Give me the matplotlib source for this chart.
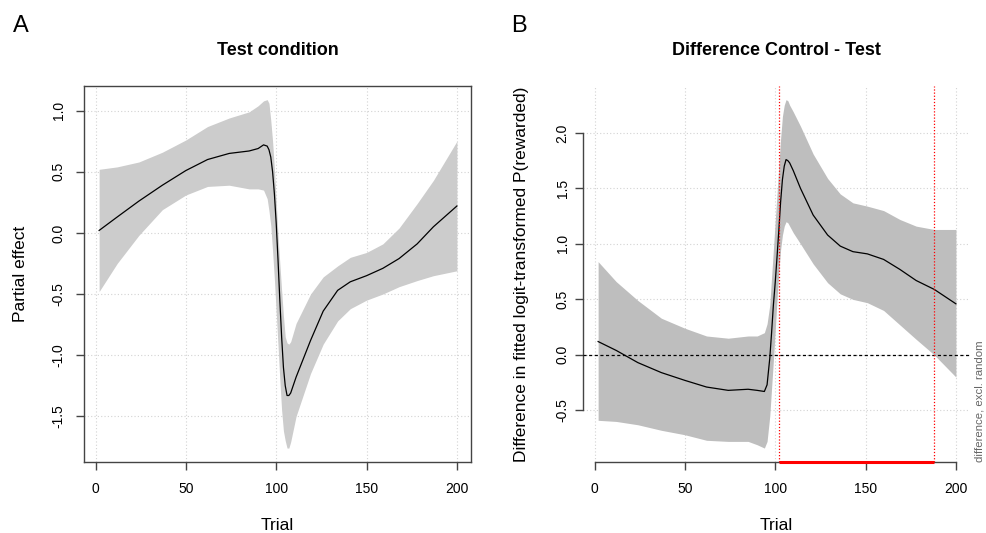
import matplotlib
matplotlib.use("Agg")
import matplotlib.pyplot as plt

plt.rcParams['font.family'] = ['Liberation Sans', 'DejaVu Sans']

# ---------------- Panel A: Test condition ----------------
trial_a = [2, 12, 24, 37, 50, 62, 74, 85, 90, 93, 95, 96, 97, 98, 99, 100, 101, 102, 103,
           104, 105, 106, 107, 108, 111, 119, 126, 134, 141, 150, 159, 168, 178, 187, 200]
fit_a = [0.02, 0.13, 0.26, 0.39, 0.51, 0.60, 0.65, 0.67, 0.69, 0.72, 0.71, 0.68, 0.62, 0.50,
         0.32, 0.08, -0.22, -0.55, -0.85, -1.10, -1.25, -1.33, -1.33, -1.31, -1.18, -0.88,
         -0.64, -0.47, -0.40, -0.35, -0.29, -0.21, -0.09, 0.05, 0.22]
upper_a = [0.52, 0.54, 0.58, 0.66, 0.76, 0.87, 0.94, 0.99, 1.04, 1.08, 1.09, 1.06, 0.92, 0.75,
           0.52, 0.25, -0.02, -0.25, -0.47, -0.68, -0.85, -0.90, -0.91, -0.89, -0.74, -0.50,
           -0.36, -0.27, -0.20, -0.16, -0.09, 0.04, 0.24, 0.43, 0.75]
lower_a = [-0.48, -0.25, -0.02, 0.19, 0.31, 0.38, 0.39, 0.36, 0.36, 0.35, 0.28, 0.18, 0.06,
           -0.15, -0.38, -0.65, -0.92, -1.20, -1.45, -1.62, -1.70, -1.76, -1.76, -1.71, -1.50,
           -1.15, -0.91, -0.72, -0.62, -0.55, -0.50, -0.44, -0.39, -0.35, -0.31]

# ---------------- Panel B: Difference Control - Test ----------------
trial_b = [2, 12, 24, 37, 50, 62, 74, 85, 90, 94, 95.5, 97, 98, 99, 100, 101, 102, 103, 104,
           105, 106, 107, 108, 110, 114, 121, 129, 136, 143, 151, 160, 169, 178, 188, 200]
fit_b = [0.12, 0.04, -0.07, -0.16, -0.23, -0.29, -0.32, -0.31, -0.32, -0.33, -0.27, -0.03,
         0.20, 0.45, 0.65, 0.88, 1.12, 1.38, 1.58, 1.70, 1.76, 1.75, 1.73, 1.66, 1.50, 1.26,
         1.08, 0.98, 0.93, 0.91, 0.86, 0.77, 0.67, 0.59, 0.46]
upper_b = [0.84, 0.66, 0.49, 0.33, 0.24, 0.17, 0.15, 0.17, 0.17, 0.20, 0.28, 0.45, 0.70, 0.95,
           1.20, 1.45, 1.70, 1.95, 2.15, 2.25, 2.30, 2.29, 2.25, 2.19, 2.06, 1.81, 1.59, 1.45,
           1.37, 1.34, 1.30, 1.22, 1.16, 1.13, 1.13]
lower_b = [-0.59, -0.60, -0.63, -0.68, -0.72, -0.77, -0.78, -0.78, -0.81, -0.84, -0.78, -0.55,
           -0.30, -0.05, 0.22, 0.50, 0.75, 0.95, 1.08, 1.16, 1.20, 1.19, 1.16, 1.10, 1.00, 0.82,
           0.65, 0.55, 0.50, 0.47, 0.40, 0.27, 0.14, 0.00, -0.20]
sig_start, sig_end = 102, 188

xticks = [0, 50, 100, 150, 200]
yticks_a = [-1.5, -1.0, -0.5, 0.0, 0.5, 1.0]
yticks_b = [-0.5, 0.0, 0.5, 1.0, 1.5, 2.0]

W, H = 986, 533
fig = plt.figure(figsize=(W / 100, H / 100), dpi=100)

def fx(px):
    return px / W

def fy(py):
    return 1 - py / H

ax_left_a, ax_left_b, ax_w = 84.3, 583.3, 386.7
ax_top, ax_bot = 85.7, 462.0
axA = fig.add_axes([fx(ax_left_a), fy(ax_bot), ax_w / W, (ax_bot - ax_top) / H])
axB = fig.add_axes([fx(ax_left_b), fy(ax_bot), ax_w / W, (ax_bot - ax_top) / H])

spine_col = '#444444'
grid_col = '#d3d3d3'
xlim = (-6.2, 207.8)
tick_fs = 10

def rlim(lo, hi):
    r = hi - lo
    return lo - 0.04 * r, hi + 0.04 * r

# Panel A
axA.fill_between(trial_a, lower_a, upper_a, color='#cccccc', linewidth=0, zorder=2)
axA.plot(trial_a, fit_a, color='black', lw=0.9, zorder=3)
axA.set_xlim(*xlim)
axA.set_ylim(*rlim(min(lower_a), max(upper_a)))
axA.set_xticks(xticks)
axA.set_yticks(yticks_a)
axA.set_xticklabels([str(v) for v in xticks])
axA.set_yticklabels(['%.1f' % v for v in yticks_a])
for v in xticks:
    axA.axvline(v, color=grid_col, ls=(0, (1, 2)), lw=0.8, zorder=1)
for v in yticks_a:
    axA.axhline(v, color=grid_col, ls=(0, (1, 2)), lw=0.8, zorder=1)
for s in axA.spines.values():
    s.set_color(spine_col)
    s.set_linewidth(1.0)
axA.tick_params(axis='x', length=6, width=1, color=spine_col, pad=8.3, labelsize=tick_fs)
axA.tick_params(axis='y', length=6, width=1, color=spine_col, pad=7.4, labelsize=tick_fs,
                labelrotation=90)
for t in axA.get_yticklabels():
    t.set_va('center')

# Panel B
axB.fill_between(trial_b, lower_b, upper_b, color='#bebebe', linewidth=0, zorder=2)
axB.plot(trial_b, fit_b, color='black', lw=0.9, zorder=3)
axB.set_xlim(*xlim)
ylim_b = rlim(min(lower_b), max(upper_b))
axB.set_ylim(*ylim_b)
axB.set_xticks(xticks)
axB.set_yticks(yticks_b)
axB.set_xticklabels([str(v) for v in xticks])
axB.set_yticklabels(['%.1f' % v for v in yticks_b])
for v in xticks:
    axB.axvline(v, color=grid_col, ls=(0, (1, 2)), lw=0.8, zorder=1)
for v in yticks_b:
    axB.axhline(v, color=grid_col, ls=(0, (1, 2)), lw=0.8, zorder=1)
axB.axhline(0, color='black', ls=(0, (2.5, 2)), lw=0.9, zorder=4)
for v in (sig_start, sig_end):
    axB.axvline(v, color='red', ls=(0, (1, 1.5)), lw=0.9, zorder=4)
axB.plot([sig_start, sig_end], [ylim_b[0], ylim_b[0]], color='red', lw=2.2,
         solid_capstyle='butt', zorder=6, clip_on=False)
axB.spines['top'].set_visible(False)
axB.spines['right'].set_visible(False)
axB.spines['left'].set_bounds(yticks_b[0], yticks_b[-1])
axB.spines['bottom'].set_bounds(xticks[0], xticks[-1])
for s in ('left', 'bottom'):
    axB.spines[s].set_color(spine_col)
    axB.spines[s].set_linewidth(1.0)
axB.tick_params(axis='x', length=6, width=1, color=spine_col, pad=8.3, labelsize=tick_fs)
axB.tick_params(axis='y', length=6, width=1, color=spine_col, pad=3.8, labelsize=tick_fs,
                labelrotation=90)
for t in axB.get_yticklabels():
    t.set_va('center')

# Text
fig.text(fx(20.5), fy(31.7), 'A', fontsize=17, ha='center', va='baseline')
fig.text(fx(519), fy(31.7), 'B', fontsize=17, ha='center', va='baseline')
fig.text(fx(ax_left_a + ax_w / 2), fy(55), 'Test condition', fontsize=13,
         fontweight='bold', ha='center', va='baseline')
fig.text(fx(ax_left_b + ax_w / 2), fy(55), 'Difference Control - Test', fontsize=13,
         fontweight='bold', ha='center', va='baseline')
fig.text(fx(ax_left_a + ax_w / 2), fy(530.5), 'Trial', fontsize=12.5,
         ha='center', va='baseline')
fig.text(fx(ax_left_b + ax_w / 2), fy(530.5), 'Trial', fontsize=12.5,
         ha='center', va='baseline')
fig.text(fx(20.7), fy((ax_top + ax_bot) / 2), 'Partial effect', fontsize=12.5,
         rotation=90, ha='center', va='center')
fig.text(fx(521.7), fy((ax_top + ax_bot) / 2),
         'Difference in fitted logit-transformed P(rewarded)', fontsize=12.5,
         rotation=90, ha='center', va='center')
fig.text(fx(980), fy(461.5), 'difference, excl. random', fontsize=8.2, color='#666666',
         rotation=90, ha='center', va='bottom')

fig.savefig('out.png', dpi=100)
